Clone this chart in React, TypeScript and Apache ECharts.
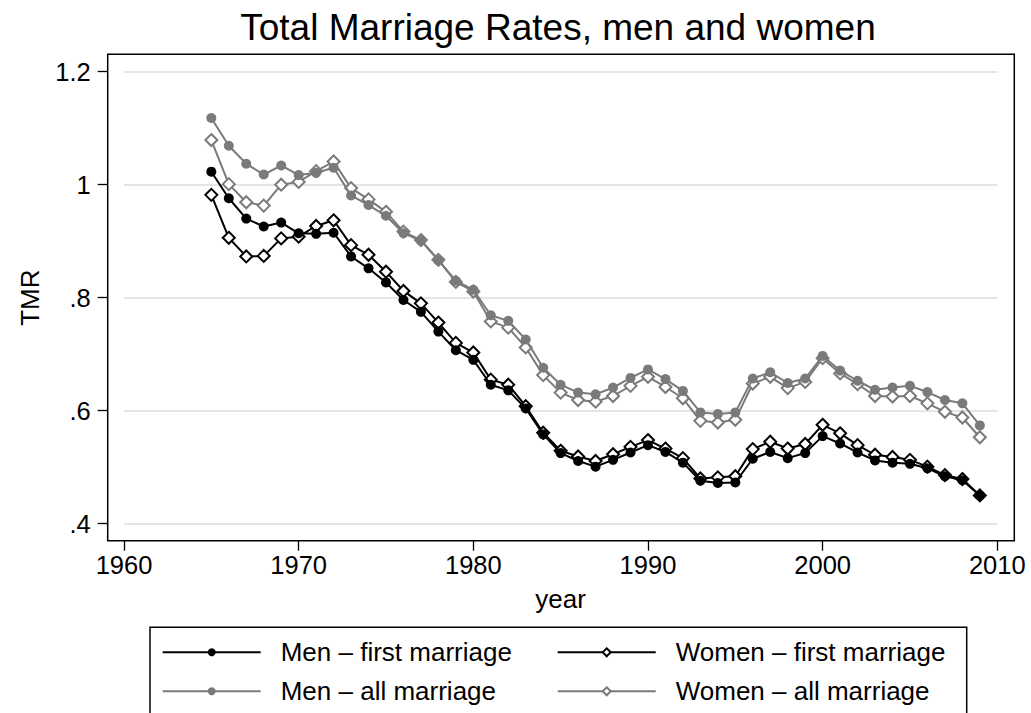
import React, { useEffect, useRef } from "react";
import * as echarts from "echarts";

const years: number[] = [
  1965, 1966, 1967, 1968, 1969, 1970, 1971, 1972, 1973, 1974, 1975, 1976, 1977, 1978, 1979,
  1980, 1981, 1982, 1983, 1984, 1985, 1986, 1987, 1988, 1989, 1990, 1991, 1992, 1993, 1994,
  1995, 1996, 1997, 1998, 1999, 2000, 2001, 2002, 2003, 2004, 2005, 2006, 2007, 2008, 2009,
];

const menFirst: number[] = [
  1.023, 0.976, 0.94, 0.926, 0.933, 0.914, 0.913, 0.915, 0.873, 0.852, 0.827, 0.796, 0.775, 0.74, 0.707,
  0.69, 0.646, 0.636, 0.604, 0.558, 0.525, 0.511, 0.501, 0.513, 0.526, 0.539, 0.527, 0.508, 0.476, 0.472,
  0.473, 0.515, 0.527, 0.516, 0.525, 0.555, 0.542, 0.526, 0.512, 0.508, 0.506, 0.498, 0.484, 0.477, 0.45,
];

const womenFirst: number[] = [
  0.982, 0.906, 0.873, 0.874, 0.905, 0.908, 0.927, 0.937, 0.893, 0.876, 0.846, 0.812, 0.79, 0.756, 0.72,
  0.703, 0.655, 0.646, 0.608, 0.561, 0.529, 0.519, 0.511, 0.523, 0.536, 0.548, 0.533, 0.516, 0.48, 0.482,
  0.484, 0.532, 0.545, 0.533, 0.541, 0.575, 0.56, 0.539, 0.522, 0.518, 0.513, 0.501, 0.486, 0.479, 0.45,
];

const menAll: number[] = [
  1.118, 1.069, 1.037, 1.018, 1.034, 1.017, 1.021, 1.03, 0.981, 0.964, 0.945, 0.914, 0.901, 0.866, 0.83,
  0.814, 0.769, 0.759, 0.726, 0.676, 0.646, 0.632, 0.629, 0.641, 0.658, 0.673, 0.656, 0.635, 0.597, 0.594,
  0.597, 0.657, 0.668, 0.649, 0.657, 0.697, 0.671, 0.653, 0.637, 0.641, 0.644, 0.633, 0.619, 0.613, 0.574,
];

const womenAll: number[] = [
  1.079, 1.001, 0.969, 0.963, 1.0, 1.005, 1.024, 1.041, 0.994, 0.974, 0.952, 0.917, 0.902, 0.867, 0.828,
  0.811, 0.758, 0.747, 0.712, 0.663, 0.632, 0.619, 0.616, 0.626, 0.644, 0.66, 0.642, 0.622, 0.582, 0.579,
  0.584, 0.648, 0.66, 0.64, 0.651, 0.693, 0.666, 0.647, 0.626, 0.625, 0.626, 0.613, 0.598, 0.588, 0.553,
];

const seriesNames: string[] = [
  "Men – first marriage",
  "Women – first marriage",
  "Men – all marriage",
  "Women – all marriage",
];

const titleText = "Total Marriage Rates, men and women";
const xTitle = "year";
const yTitle = "TMR";

const FONT = "'Liberation Sans', Arial, Helvetica, sans-serif";
const BLACK = "#000000";
const GREY = "#7a7a7a";

const pairs = (vals: number[]) => years.map((y, i) => [y, vals[i]]);

export default function App() {
  const ref = useRef<HTMLDivElement>(null);

  useEffect(() => {
    if (!ref.current) return;
    const chart = echarts.init(ref.current, null, { renderer: "svg" });

    const circle = (name: string, vals: number[], color: string) => ({
      name,
      type: "line",
      data: pairs(vals),
      symbol: "circle",
      symbolSize: 10,
      showSymbol: true,
      lineStyle: { color, width: 2 },
      itemStyle: { color, borderWidth: 0 },
      z: 3,
    });
    const diamond = (name: string, vals: number[], color: string) => ({
      name,
      type: "line",
      data: pairs(vals),
      symbol: "diamond",
      symbolSize: 12,
      showSymbol: true,
      lineStyle: { color, width: 2 },
      itemStyle: { color: "#ffffff", borderColor: color, borderWidth: 2 },
      z: 2,
    });

    const legendCommon = {
      orient: "vertical",
      padding: 0,
      itemWidth: 98,
      itemHeight: 10,
      itemGap: 13,
      height: 80,
      textStyle: {
        fontFamily: FONT,
        fontSize: 26,
        color: "#000",
        lineHeight: 26,
        padding: [0, 0, 0, 15],
      },
      selectedMode: false,
    };

    chart.setOption({
      animation: false,
      backgroundColor: "#ffffff",
      grid: { left: 124, right: 33.7, top: 71.7, bottom: 189.3, containLabel: false },
      xAxis: {
        type: "value",
        min: 1960,
        max: 2010,
        interval: 10,
        offset: 17,
        name: xTitle,
        nameLocation: "middle",
        nameGap: 45,
        nameTextStyle: { fontFamily: FONT, fontSize: 26, color: "#000" },
        axisLine: { show: false },
        axisTick: { show: true, length: 10, lineStyle: { color: "#000", width: 1.3 } },
        axisLabel: {
          margin: 11,
          fontFamily: FONT,
          fontSize: 25.5,
          color: "#000",
          formatter: (v: number) => String(Math.round(v)),
        },
        splitLine: { show: false },
      },
      yAxis: {
        type: "value",
        min: 0.4,
        max: 1.2,
        interval: 0.2,
        offset: 16.3,
        name: yTitle,
        nameLocation: "middle",
        nameGap: 65,
        nameTextStyle: { fontFamily: FONT, fontSize: 26, color: "#000" },
        axisLine: { show: false },
        axisTick: { show: true, length: 10, lineStyle: { color: "#000", width: 1.3 } },
        axisLabel: {
          margin: 17,
          fontFamily: FONT,
          fontSize: 25.5,
          color: "#000",
          formatter: (v: number) => {
            const r = Math.round(v * 10) / 10;
            let s = String(r);
            if (s.startsWith("0.")) s = s.slice(1);
            return s;
          },
        },
        splitLine: { show: true, lineStyle: { color: "#dcdcdc", width: 1.5 } },
      },
      legend: [
        { ...legendCommon, left: 161.7, top: 639.3, data: [seriesNames[0], seriesNames[2]] },
        { ...legendCommon, left: 556.7, top: 639.3, data: [seriesNames[1], seriesNames[3]] },
      ],
      graphic: [
        {
          type: "text",
          x: 558,
          y: 27,
          style: {
            text: titleText,
            fontFamily: FONT,
            fontSize: 37,
            fill: "#000",
            align: "center",
            verticalAlign: "middle",
          },
        },
        {
          type: "rect",
          shape: { x: 107.7, y: 54.3, width: 906.6, height: 486.4 },
          style: { fill: "none", stroke: "#000", lineWidth: 1.5 },
          z: 10,
          silent: true,
        },
        {
          type: "rect",
          shape: { x: 150, y: 627.3, width: 816.7, height: 100 },
          style: { fill: "none", stroke: "#000", lineWidth: 1.5 },
          silent: true,
        },
      ],
      series: [
        diamond(seriesNames[1], womenFirst, BLACK),
        circle(seriesNames[0], menFirst, BLACK),
        diamond(seriesNames[3], womenAll, GREY),
        circle(seriesNames[2], menAll, GREY),
      ],
    });

    return () => chart.dispose();
  }, []);

  return (
    <div
      ref={ref}
      style={{ position: "absolute", left: 0, top: 0, width: 1031, height: 713, background: "#fff" }}
    />
  );
}
